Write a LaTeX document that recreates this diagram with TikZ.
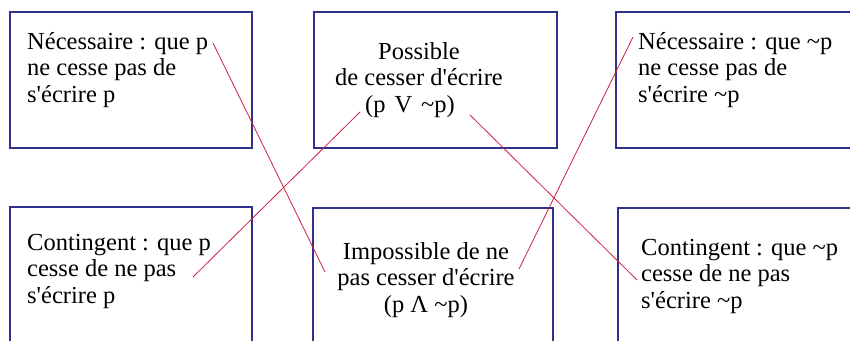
\documentclass[tikz,border=0pt]{standalone}
\usepackage{fontspec}
\setmainfont{Liberation Serif}[Ligatures=TeXOff]
\definecolor{cadre}{RGB}{47,49,140}
\definecolor{rouge}{RGB}{205,35,65}
\newcommand{\tld}{\textasciitilde}
\tikzset{
  carre/.style={draw=cadre, line width=2pt, anchor=north west, inner sep=0pt,
    minimum width=242pt, minimum height=136pt},
  texte/.style={inner sep=0pt, align=left, font=\fontsize{24.5}{26.5}\selectfont},
  trait/.style={draw=rouge, line width=0.8pt}
}
\begin{document}
\begin{tikzpicture}[x=1pt, y=-1pt]
    \useasboundingbox (0,0) rectangle (850,340);
    \fill[white] (0,0) rectangle (850,340);
    \clip (0,0) rectangle (850,340);

    % --- Top row ---
    \node[carre] (nec) at (9,11) {};
    \node[carre, minimum width=243pt] (pos) at (313,11) {};
    \node[carre, minimum width=243pt] (necn) at (615,11) {};

    % texts sit on the baseline of their last line
    \node[texte, anchor=base west] (tnec) at ([shift={(18,91)}]nec.north west)
        {N\'ecessaire : que p\\ne cesse pas de\\s'\'ecrire p};
    \node[texte, align=center, anchor=base] (tpos) at ([shift={(106,101)}]pos.north west)
        {Possible\\de cesser d'\'ecrire\\(p\hspace{9pt}V\hspace{9pt}\tld p)\hspace*{18pt}};
    \node[texte, anchor=base west] (tnecn) at ([shift={(23,91)}]necn.north west)
        {N\'ecessaire : que \tld p\\ne cesse pas de\\s'\'ecrire \tld p};

    % --- Bottom row ---
    \node[carre] (con) at (9,206) {};
    \node[carre, minimum width=240pt] (imp) at (312,207) {};
    \node[carre, minimum width=243pt] (conn) at (617,207) {};

    \node[texte, anchor=base west] (tcon) at ([shift={(18,97)}]con.north west)
        {Contingent : que p\\cesse de ne pas\\s'\'ecrire p};
    \node[texte, align=center, anchor=base] (timp) at ([shift={(114,105)}]imp.north west)
        {Impossible de ne\\pas cesser d'\'ecrire\\(p Λ \tld p)};
    \node[texte, anchor=base west] (tconn) at ([shift={(24,101)}]conn.north west)
        {Contingent : que \tld p\\cesse de ne pas\\s'\'ecrire \tld p};

    % Red diagonals (ends inside the texts)
    \coordinate (a1) at ([shift={(204,32)}]nec.north west);
    \coordinate (a2) at ([shift={(13,65)}]imp.north west);
    \coordinate (b1) at ([shift={(47,101)}]pos.north west);
    \coordinate (b2) at ([shift={(184,71)}]con.north west);
    \coordinate (c1) at ([shift={(18,26)}]necn.north west);
    \coordinate (c2) at ([shift={(207,62)}]imp.north west);
    \coordinate (d1) at ([shift={(157,104)}]pos.north west);
    \coordinate (d2) at ([shift={(20,73)}]conn.north west);

    \draw[trait] (a1) -- (a2);
    \draw[trait] (b1) -- (b2);
    \draw[trait] (c1) -- (c2);
    \draw[trait] (d1) -- (d2);

\end{tikzpicture}
\end{document}
